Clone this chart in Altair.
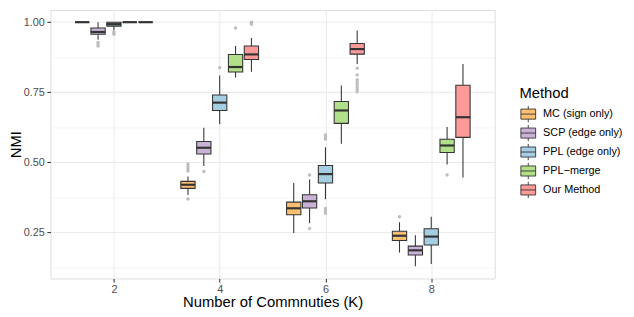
import altair as alt
import pandas as pd

methods = ["MC (sign only)", "SCP (edge only)", "PPL (edge only)", "PPL\u2212merge", "Our Method"]
colors = ["#FDBF6F", "#CAB2D6", "#A6CEE3", "#B2DF8A", "#FB9A99"]
Ks = [2, 4, 6, 8]

# per method, values for K = 2, 4, 6, 8
whisker_low = {
    "MC (sign only)":  [1.000, 0.383, 0.248, 0.178],
    "SCP (edge only)": [0.937, 0.487, 0.283, 0.129],
    "PPL (edge only)": [0.972, 0.636, 0.368, 0.137],
    "PPL\u2212merge":  [1.000, 0.803, 0.566, 0.492],
    "Our Method":      [1.000, 0.823, 0.851, 0.446],
}
q1 = {
    "MC (sign only)":  [1.000, 0.407, 0.313, 0.221],
    "SCP (edge only)": [0.957, 0.530, 0.337, 0.169],
    "PPL (edge only)": [0.986, 0.685, 0.426, 0.205],
    "PPL\u2212merge":  [1.000, 0.822, 0.639, 0.535],
    "Our Method":      [1.000, 0.867, 0.886, 0.589],
}
median = {
    "MC (sign only)":  [1.000, 0.420, 0.336, 0.238],
    "SCP (edge only)": [0.965, 0.552, 0.361, 0.186],
    "PPL (edge only)": [0.993, 0.713, 0.458, 0.235],
    "PPL\u2212merge":  [1.000, 0.840, 0.685, 0.560],
    "Our Method":      [1.000, 0.885, 0.904, 0.661],
}
q3 = {
    "MC (sign only)":  [1.000, 0.432, 0.358, 0.254],
    "SCP (edge only)": [0.979, 0.574, 0.384, 0.201],
    "PPL (edge only)": [1.000, 0.740, 0.489, 0.263],
    "PPL\u2212merge":  [1.000, 0.885, 0.717, 0.582],
    "Our Method":      [1.000, 0.915, 0.924, 0.775],
}
whisker_high = {
    "MC (sign only)":  [1.000, 0.449, 0.426, 0.286],
    "SCP (edge only)": [1.000, 0.623, 0.439, 0.240],
    "PPL (edge only)": [1.000, 0.810, 0.554, 0.306],
    "PPL\u2212merge":  [1.000, 0.915, 0.774, 0.626],
    "Our Method":      [1.000, 0.944, 0.970, 0.851],
}
outlier_points = {
    "MC (sign only)":  [(4, 0.494), (4, 0.485), (4, 0.476), (4, 0.469), (4, 0.369), (8, 0.306)],
    "SCP (edge only)": [(2, 0.928), (2, 0.921), (2, 0.915), (4, 0.467), (6, 0.455), (6, 0.264)],
    "PPL (edge only)": [(2, 0.966), (2, 0.961), (2, 0.957), (4, 0.838), (6, 0.598), (6, 0.590),
                        (6, 0.583), (6, 0.335), (6, 0.326), (6, 0.318)],
    "PPL\u2212merge":  [(4, 0.979), (8, 0.455)],
    "Our Method":      [(4, 1.000), (4, 0.997), (4, 0.993), (6, 0.836), (6, 0.812), (6, 0.795),
                        (6, 0.786), (6, 0.778), (6, 0.768), (6, 0.760), (6, 0.752)],
}

rows = []
for mi, m in enumerate(methods):
    for ki, k in enumerate(Ks):
        rows.append(dict(method=m, midx=mi, K=k, lo=whisker_low[m][ki], q1=q1[m][ki],
                         med=median[m][ki], q3=q3[m][ki], hi=whisker_high[m][ki]))
stats = pd.DataFrame(rows)

orows = []
for mi, m in enumerate(methods):
    for k, v in outlier_points[m]:
        orows.append(dict(method=m, midx=mi, K=k, value=v))
outs = pd.DataFrame(orows)

FONT = "Liberation Sans"
MAJ = "abs(datum.value*4 - round(datum.value*4)) < 0.001"
W, H = 450, 272

xscale = alt.Scale(domain=[0.8, 9.2], nice=False, zero=False)
yscale = alt.Scale(domain=[0.0855, 1.0436], nice=False, zero=False)

xaxis = alt.Axis(values=Ks, format="d", grid=True, gridColor="#EBEBEB", gridWidth=1.07,
                 tickColor="#333333", tickSize=3.67, tickWidth=1.07,
                 labelColor="#4D4D4D", labelFontSize=11, labelPadding=2,
                 titleFontSize=15, titleColor="black", titleFontWeight="normal",
                 titlePadding=0, domain=False, labelFont=FONT, titleFont=FONT,
                 title="Number of Commnuties (K)")
yaxis = alt.Axis(values=[0.125, 0.25, 0.375, 0.5, 0.625, 0.75, 0.875, 1.0],
                 labelExpr=MAJ + " ? format(datum.value, '.2f') : ''",
                 tickOpacity={"condition": {"test": MAJ, "value": 1}, "value": 0},
                 gridWidth={"condition": {"test": MAJ, "value": 1.07}, "value": 0.55},
                 gridColor="#EBEBEB", grid=True,
                 tickColor="#333333", tickSize=3.67, tickWidth=1.07,
                 labelColor="#4D4D4D", labelFontSize=11, labelPadding=2.5,
                 titleFontSize=15, titleColor="black", titleFontWeight="normal",
                 titleX=-35, titleY=H / 2, titleBaseline="middle", titleAlign="center",
                 domain=False, labelFont=FONT, titleFont=FONT,
                 labelOverlap=False, title="NMI")

def xenc(field):
    return alt.X(field, type="quantitative", scale=xscale, axis=xaxis)

def yenc(field):
    return alt.Y(field, type="quantitative", scale=yscale, axis=yaxis)

base = (alt.Chart(stats)
        .transform_calculate(xpos="datum.K + (datum.midx - 2) * 0.3")
        .transform_calculate(xl="datum.xpos - 0.135", xr="datum.xpos + 0.135"))

lower_whisker = base.mark_rule(color="#333333", strokeWidth=1.07).encode(
    x=xenc("xpos"), y=yenc("lo"), y2=alt.Y2("q1"))
upper_whisker = base.mark_rule(color="#333333", strokeWidth=1.07).encode(
    x=xenc("xpos"), y=yenc("q3"), y2=alt.Y2("hi"))

LEG_PATH = "M-0.88,-0.6H0.88V0.6H-0.88Z M-0.88,0H0.88 M0,-0.6V-1 M0,0.6V1"

boxes = base.mark_rect(stroke="#333333", strokeWidth=1.07, opacity=1).encode(
    x=xenc("xl"), x2=alt.X2("xr"), y=yenc("q1"), y2=alt.Y2("q3"),
    color=alt.Color("method:N", scale=alt.Scale(domain=methods, range=colors),
                    legend=alt.Legend(title="Method", orient="none", legendX=475, legendY=77,
                                      symbolType=LEG_PATH, symbolSize=289,
                                      symbolStrokeColor="#333333", symbolStrokeWidth=0.9,
                                      symbolOpacity=1, clipHeight=17,
                                      labelFontSize=11, labelFont=FONT, labelColor="black",
                                      titleFontSize=15, titleFont=FONT, titleColor="black",
                                      titleFontWeight="normal", labelOffset=6,
                                      rowPadding=2.2, titlePadding=5, padding=0)))

medians = base.mark_rule(color="#333333", strokeWidth=2.2).encode(
    x=xenc("xl"), x2=alt.X2("xr"), y=yenc("med"))

points = (alt.Chart(outs)
          .transform_calculate(xpos="datum.K + (datum.midx - 2) * 0.3")
          .mark_circle(color="#BDBDBD", size=12, opacity=1)
          .encode(x=xenc("xpos"), y=yenc("value")))

chart = (alt.layer(lower_whisker, upper_whisker, boxes, medians, points)
         .properties(width=W, height=H,
                     autosize=alt.AutoSizeParams(type="none"),
                     padding={"left": 43, "top": 0, "right": 133, "bottom": 36})
         .configure_view(stroke="#333333", strokeWidth=1.07)
         .configure(font=FONT))

chart.save("out.html", embed_options={"renderer": "svg", "actions": False})
